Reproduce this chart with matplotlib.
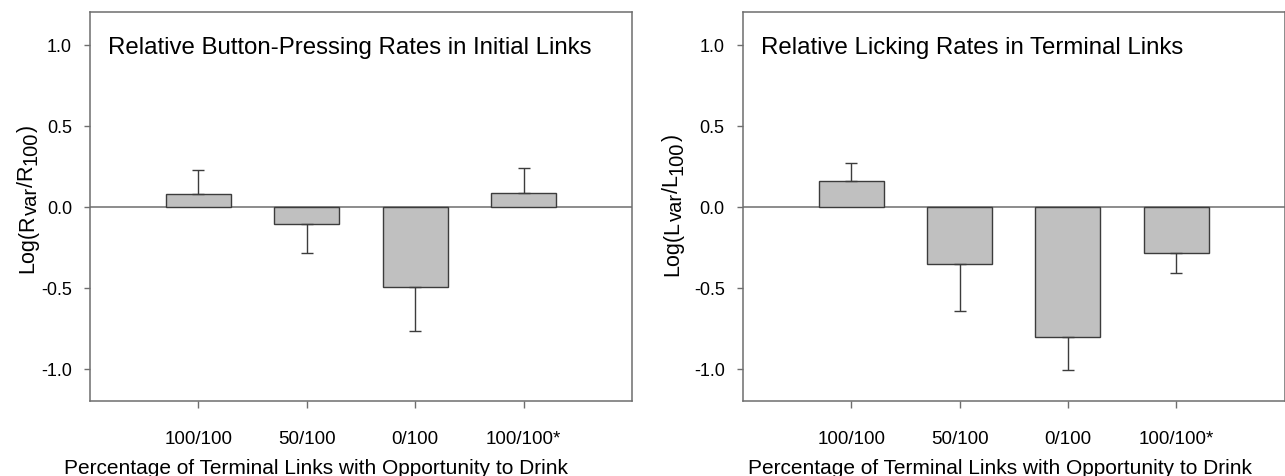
import matplotlib
matplotlib.use("Agg")
import matplotlib.pyplot as plt
from matplotlib.transforms import IdentityTransform

plt.rcParams['font.family'] = ['Liberation Sans', 'DejaVu Sans']

conditions = ['100/100', '50/100', '0/100', '100/100*']

# initial links: relative button-pressing rates (log ratio) and SEM
press_mean = [0.078, -0.107, -0.494, 0.086]
press_sem = [0.150, 0.177, 0.276, 0.154]

# terminal links: relative licking rates (log ratio) and SEM
lick_mean = [0.155, -0.354, -0.807, -0.288]
lick_sem = [0.112, 0.292, 0.203, 0.120]

xlabel = 'Percentage of Terminal Links with Opportunity to Drink'


def vertical_label(fig, x_px, y_center_px, pieces):
    # rotated label built from pieces so subscripts stay nearly full size
    renderer = fig.canvas.get_renderer()
    items = []
    total = 0
    for s, size, shift in pieces:
        t = fig.text(0, 0, s, fontsize=size, rotation=90, rotation_mode='anchor',
                     ha='left', va='baseline', transform=IdentityTransform())
        h = t.get_window_extent(renderer).height
        items.append((t, shift, total))
        total += h
    y0 = y_center_px - total / 2
    for t, shift, off in items:
        t.set_position((x_px + shift, y0 + off))


panels = [
    ('Relative Button-Pressing Rates in Initial Links', 'R', press_mean, press_sem, 0.070, 33, 278, 0.417),
    ('Relative Licking Rates in Terminal Links', 'L', lick_mean, lick_sem, 0.578, 678, 272, 0.475),
]

spine_col = '#6e6e6e'
fig = plt.figure(figsize=(12.85, 4.77), dpi=100)

for title, sym, mean, sem, left, lab_x, lab_y, xlab_pos in panels:
    ax = fig.add_axes([left, 0.157, 0.4218, 0.8155])
    x = list(range(1, len(conditions) + 1))
    # one-sided error bars pointing away from zero
    lower = [s if m < 0 else 0 for m, s in zip(mean, sem)]
    upper = [s if m >= 0 else 0 for m, s in zip(mean, sem)]
    ax.bar(x, mean, width=0.6, color='#c0c0c0', edgecolor='#3c3c3c', linewidth=1.0, zorder=2)
    ax.errorbar(x, mean, yerr=[lower, upper], fmt='none', ecolor='#3c3c3c',
                elinewidth=1.0, capsize=4, capthick=1.0, zorder=3)
    ax.axhline(0, color=spine_col, linewidth=1.1, zorder=1)
    ax.set_xlim(0, 5)
    ax.set_ylim(-1.2, 1.2)
    ax.set_yticks([-1.0, -0.5, 0.0, 0.5, 1.0])
    ax.set_yticklabels(['-1.0', '-0.5', '0.0', '0.5', '1.0'])
    ax.set_xticks(x)
    ax.set_xticklabels(conditions)
    for sp in ax.spines.values():
        sp.set_color(spine_col)
        sp.set_linewidth(1.1)
    ax.tick_params(axis='y', direction='out', length=4, width=1, color=spine_col,
                   labelsize=13, pad=9)
    ax.tick_params(axis='x', direction='out', length=5, width=1, color=spine_col,
                   labelsize=13.5, pad=16)
    ax.set_xlabel(xlabel, fontsize=15)
    ax.xaxis.set_label_coords(xlab_pos, -0.145)
    ax.text(0.17, 0.985, title, fontsize=17.3, ha='left', va='center')

    vertical_label(fig, lab_x, lab_y, [
        ('Log(' + sym, 15.5, 0), ('var', 14.5, 4), ('/' + sym, 15.5, 0),
        ('100', 14.5, 4), (')', 15.5, 0),
    ])

fig.savefig('out.png', dpi=100)
